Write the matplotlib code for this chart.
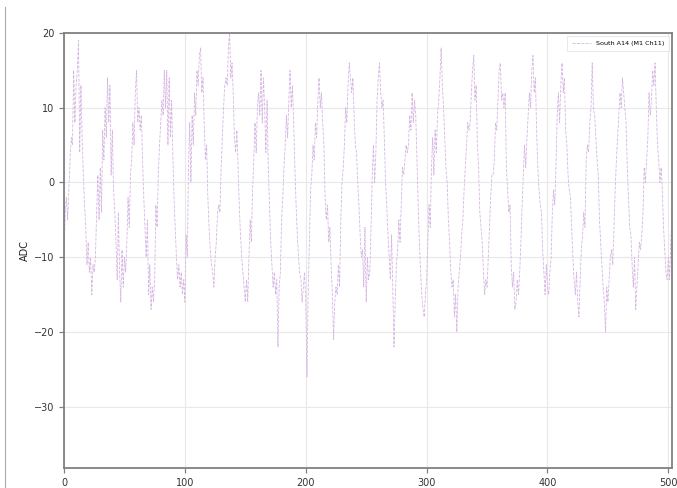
import numpy as np
import matplotlib
matplotlib.use("Agg")
import matplotlib.pyplot as plt
from matplotlib.lines import Line2D

series_label = "South A14 (M1 Ch11)"
y_label = "ADC"
x_ticks = [0, 100, 200, 300, 400, 500]
y_ticks = [-30, -20, -10, 0, 10, 20]

adc_values = [
    -10, -4, -2, -5, -1, 3, 6, 5, 15, 8, 13, 15, 19,
    4, 13, 6, 1, -3, -6, -11, -8, -12, -10, -15,
    -11, -12, -10, -4, 1, -5, 2, -4, 7, 3, 10, 6, 14,
    8, 13, 1, 7, -1, -4, -8, -13, -4, -12, -16,
    -9, -14, -10, -12, -8, -2, -6, 1, 3, 8, 5, 12,
    15, 8, 10, 7, 9, 3, -2, -6, -10, -5, -15, -11, -17, -14,
    -16, -13, -3, -6, 1, 5, 8, 11, 9, 15, 10, 15,
    5, 14, 6, 11, 4, -2, -6, -10, -13, -11, -14, -12, -15, -13, -16,
    -7, -10, 2, 8, 0, 9, 5, 12, 9, 15, 13, 17, 18,
    12, 14, 8, 3, 5, -2, -6, -9, -11, -12, -14,
    -10, -8, -4, -3, -4, 2, 6, 10, 13, 14, 13, 18, 20,
    14, 16, 12, 6, 4, 7, 2, -3, -7, -10, -12, -14, -16,
    -13, -16, -10, -5, -8, -1, 3, 8, 4, 10, 12, 9, 15,
    8, 14, 10, 4, 11, 2, -3, -8, -11, -14, -12, -15, -13, -22,
    -14, -12, -5, -2, 2, 5, 9, 6, 11, 15,
    10, 13, 8, 2, -3, -7, -10, -12, -13, -16, -14, -12, -16, -26,
    -15, -8, -1, 1, 5, 3, 8, 6, 11, 14,
    10, 12, 8, 5, -2, -5, -3, -8, -6, -11, -15, -21,
    -16, -14, -15, -11, -14, -5, 0, 2, 5, 10, 8, 13, 16,
    14, 12, 14, 9, 5, 4, 0, -3, -7, -10, -9, -14, -6, -16,
    -10, -13, -12, -6, 1, 5, 0, 4, 11, 14, 16,
    12, 10, 11, 6, 0, -3, -7, -10, -13, -7, -14, -22,
    -16, -11, -9, -5, -8, -3, 2, 1, 3, 5, 4, 5, 9, 7, 12,
    8, 11, 9, 3, -3, -8, -12, -15, -17, -18,
    -15, -13, -8, -3, -6, 2, 6, 1, 7, 4, 9, 11, 14, 18,
    13, 10, 6, 2, 0, -5, -8, -12, -14, -13, -18, -15, -20,
    -14, -12, -10, -7, -5, -1, 2, 5, 8, 7, 8, 12, 15, 17,
    11, 13, 5, 2, -4, -6, -8, -12, -15,
    -13, -14, -10, -6, -2, 1, 1, 3, 8, 7, 11, 15, 16,
    11, 12, 10, 12, 2, -1, -4, -3, -11, -14, -12, -17,
    -16, -13, -15, -12, -8, -3, 1, 5, 2, 6, 9, 12, 10, 15, 17,
    12, 14, 7, 2, -1, -3, -4, -9, -12, -15, -11, -14, -15,
    -12, -10, -4, -1, -3, 2, 9, 12, 8, 13, 16,
    12, 14, 7, 5, 1, -1, -2, -6, -10, -13, -15, -12, -16, -18,
    -13, -9, -7, -4, -6, 3, 5, 4, 8, 10, 16,
    10, 9, 6, 3, 1, -5, -8, -11, -14, -16, -20,
    -14, -16, -13, -10, -9, -11, -6, -1, 3, 6, 9, 12, 10, 14,
    12, 10, 8, 2, -2, -6, -7, -11, -14, -10, -17,
    -14, -11, -8, -9, -7, -4, 2, 0, 3, 6, 12, 9, 11, 15, 13, 16,
    10, 5, 3, 0, 2, -1, -6, -9, -12, -13, -10, -13,
    -8, -4,
]

sample_index = np.arange(len(adc_values))

W, H = 677, 488
fig = plt.figure(figsize=(W / 100, H / 100), dpi=100)
left, right, top, bottom = 64, 672, 33, 468
ax = fig.add_axes([left / W, 1 - bottom / H, (right - left) / W, (bottom - top) / H])

ax.plot(sample_index, adc_values, linestyle="--", color="#d6b6e3", linewidth=0.6,
        label=series_label)

ax.set_xlim(0, len(adc_values) - 1)
ax.set_ylim(-38.2, 20)
ax.set_xticks(x_ticks)
ax.set_yticks(y_ticks)
ax.grid(True, color="#e8e8e8", linewidth=0.8)
ax.set_axisbelow(True)
for s in ax.spines.values():
    s.set_color("#808080")
    s.set_linewidth(1.3)
ax.tick_params(axis="both", labelsize=7, colors="#333333", length=3.5, width=0.9)
ax.tick_params(axis="both", color="#808080")
ax.set_ylabel(y_label, fontsize=7, color="#222222", labelpad=3)

leg = ax.legend(loc="upper right", fontsize=4.6, frameon=True, fancybox=False,
                handlelength=3, borderpad=0.7)
leg.get_frame().set_edgecolor("#dddddd")
leg.get_frame().set_linewidth(0.6)

fig.add_artist(Line2D([5 / W, 5 / W], [0, 0.985], color="#aaaaaa", linewidth=0.8))

fig.savefig("out.png", dpi=100)
